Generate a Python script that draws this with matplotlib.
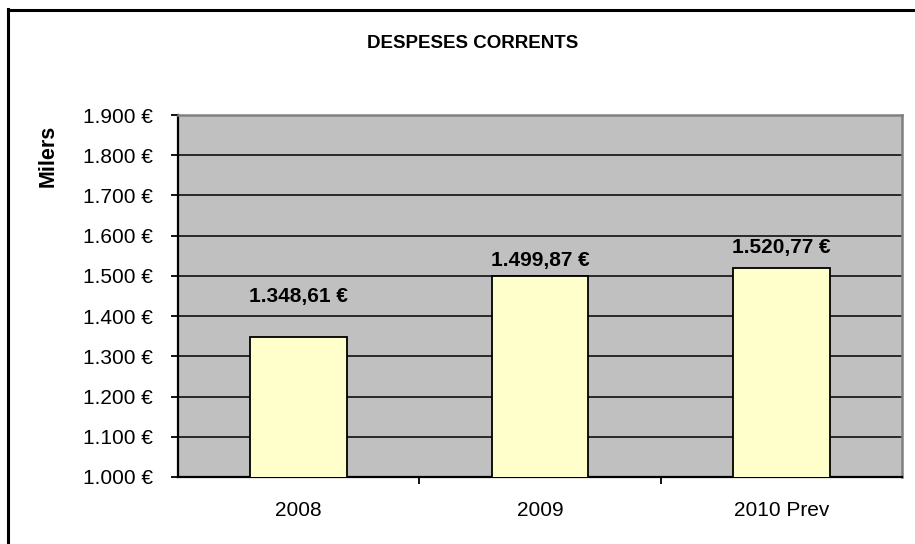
import matplotlib
matplotlib.use("Agg")
import matplotlib.pyplot as plt
from matplotlib.ticker import FuncFormatter, MultipleLocator
from matplotlib.lines import Line2D

plt.rcParams['font.family'] = ['Liberation Sans', 'DejaVu Sans']

# dades
categories = ['2008', '2009', '2010 Prev']
despeses = [1348.61, 1499.87, 1520.77]
label_offsets = [22, 4, 7.5]  # punts per sobre de la barra

W, H = 915, 544
fig = plt.figure(figsize=(W / 100, H / 100), dpi=100)
ax = fig.add_axes([178 / W, 1 - 477 / H, (902 - 178) / W, (477 - 115) / H])

ax.set_facecolor('#C0C0C0')
x = range(len(categories))
bars = ax.bar(x, despeses, width=0.4, bottom=0, color='#FFFFCC',
              edgecolor='black', linewidth=1.3, zorder=3)

ax.set_ylim(1000, 1900)
ax.set_xlim(-0.5, len(categories) - 0.5)
ax.yaxis.set_major_locator(MultipleLocator(100))
ax.yaxis.set_major_formatter(FuncFormatter(
    lambda v, p: f"{v:,.0f}".replace(",", ".") + " €"))
ax.grid(axis='y', color='black', linewidth=1.1, zorder=1)

ax.set_xticks([i + 0.5 for i in range(len(categories) - 1)])
ax.set_xticklabels([])
ax.set_xticks(list(x), minor=True)
ax.set_xticklabels(categories, minor=True)
ax.tick_params(axis='x', which='major', direction='out', length=5, width=1.3, color='black')
ax.tick_params(axis='x', which='minor', length=0, pad=17, labelsize=15)
ax.tick_params(axis='y', direction='out', length=5, width=1.3, pad=13, labelsize=15)

for s in ['left', 'bottom']:
    ax.spines[s].set_color('black')
    ax.spines[s].set_linewidth(1.6)
for s in ['top', 'right']:
    ax.spines[s].set_color('#808080')
    ax.spines[s].set_linewidth(1.8)

for b, v, off in zip(bars, despeses, label_offsets):
    ax.annotate(f"{v:,.2f}".replace(",", "X").replace(".", ",").replace("X", ".") + " €",
                (b.get_x() + b.get_width() / 2, v), xytext=(0, off),
                textcoords='offset points', ha='center', va='bottom',
                fontsize=15, fontweight='bold', zorder=4)

fig.text(473 / W, 1 - 43 / H, 'DESPESES CORRENTS', ha='center', va='center',
         fontsize=13.5, fontweight='bold')
fig.text(48 / W, 1 - 156 / H, 'Milers', ha='center', va='center', rotation=90,
         fontsize=15.5, fontweight='bold')

# marc exterior
fig.add_artist(Line2D([8 / W, 8 / W], [0, 1 - 9 / H], color='black', linewidth=2.2,
                      transform=fig.transFigure))
fig.add_artist(Line2D([8 / W, 1], [1 - 10 / H, 1 - 10 / H], color='black', linewidth=2.2,
                      transform=fig.transFigure))

fig.savefig('out.png', dpi=100)
